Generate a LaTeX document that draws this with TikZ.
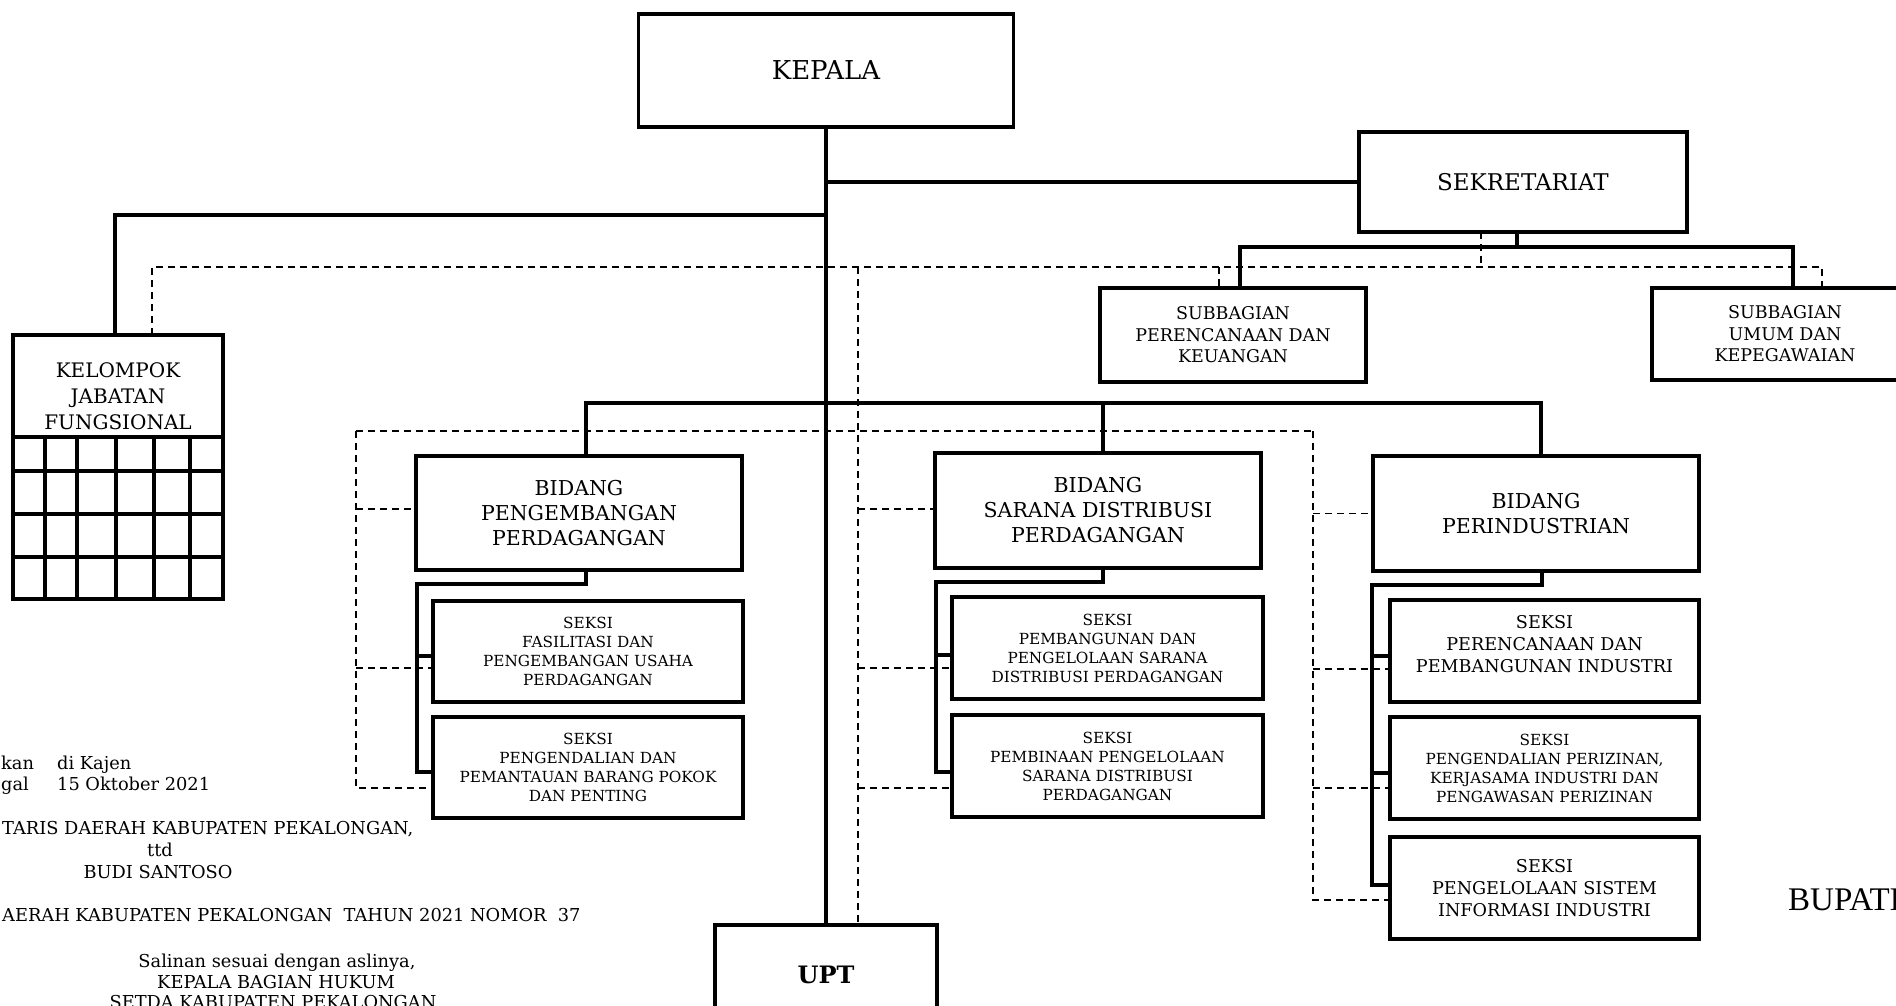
\documentclass[tikz,border=0pt]{standalone}
\usepackage{fontspec}
\setmainfont{DejaVu Serif}
\newfontfamily\capfont{Liberation Serif}
\begin{document}
\begin{tikzpicture}[x=1pt,y=-1pt,
  box/.style={draw, line width=3.8pt, fill=white, inner sep=0pt, outer sep=0pt, align=center},
  link/.style={line width=3.4pt},
  dlink/.style={line width=1.8pt, dash pattern=on 7pt off 5pt},
  topfont/.style={font=\fontsize{26}{30}\selectfont},
  secfont/.style={font=\fontsize{23}{28}\selectfont},
  subfont/.style={font=\fontsize{17.5}{21.5}\selectfont},
  kelfont/.style={font=\fontsize{20}{26}\selectfont},
  bidfont/.style={font=\fontsize{20.5}{25}\selectfont},
  smallsek/.style={font=\fontsize{15.3}{19}\selectfont, minimum width=310pt, minimum height=101pt},
  bigsek/.style={font=\fontsize{17.6}{22}\selectfont, minimum width=309pt, minimum height=102pt},
  btext/.style={font=\fontsize{17.8}{21}\selectfont, inner sep=0pt, anchor=base west},
]
\useasboundingbox (0,0) rectangle (1896,1006);
\clip (0,0) rectangle (1896,1006);

% ---------- boxes ----------
\node[box, topfont, minimum width=375pt, minimum height=113pt] (kepala) at (826,70.5) {KEPALA};
\node[box, secfont, minimum width=328pt, minimum height=100pt] (sekr) at (1523,182) {SEKRETARIAT};
\node[box, subfont, minimum width=266pt, minimum height=94pt] (subA) at (1233,335) {SUBBAGIAN\\PERENCANAAN DAN\\KEUANGAN};
\node[box, subfont, minimum width=266pt, minimum height=92pt] (subB) at (1785,334) {SUBBAGIAN\\UMUM DAN\\KEPEGAWAIAN};

% functional group with its grid
\node[box, minimum width=210pt, minimum height=102pt] (kel) at (118,386) {};
\node[kelfont, align=center, inner sep=0pt] (kelT) at ([yshift=-10pt]kel.center) {KELOMPOK\\JABATAN\\FUNGSIONAL};
\draw[line width=3.8pt] (kel.south west) rectangle (223,599);
\foreach \yy in {471,514,557} \draw[line width=3.8pt] (13,\yy) -- (223,\yy);
\foreach \xx in {45,77,116,154,190} \draw[line width=3.8pt] (\xx,437) -- (\xx,599);

\node[box, bidfont, minimum width=326pt, minimum height=114pt] (bid1) at (579,513) {BIDANG\\PENGEMBANGAN\\PERDAGANGAN};
\node[box, bidfont, minimum width=326pt, minimum height=115pt] (bid2) at (1098,510.5) {BIDANG\\SARANA DISTRIBUSI\\PERDAGANGAN};
\node[box, bidfont, minimum width=326pt, minimum height=115pt] (bid3) at (1536,513.5) {BIDANG\\PERINDUSTRIAN};

\node[box, smallsek] (s1a) at (588,651.5) {SEKSI\\FASILITASI DAN\\PENGEMBANGAN USAHA\\PERDAGANGAN};
\node[box, smallsek] (s1b) at (588,767.5) {SEKSI\\PENGENDALIAN DAN\\PEMANTAUAN BARANG POKOK\\DAN PENTING};
\node[box, smallsek, minimum width=311pt, minimum height=102pt] (s2a) at (1107.5,648) {SEKSI\\PEMBANGUNAN DAN\\PENGELOLAAN SARANA\\DISTRIBUSI PERDAGANGAN};
\node[box, smallsek, minimum width=311pt, minimum height=102pt] (s2b) at (1107.5,766) {SEKSI\\PEMBINAAN PENGELOLAAN\\SARANA DISTRIBUSI\\PERDAGANGAN};
\node[box, bigsek] (s3a) at (1544.5,651) {};
\node[font=\fontsize{17.6}{22}\selectfont, align=center, inner sep=0pt] (s3aT) at ([yshift=7pt]s3a.center) {SEKSI\\PERENCANAAN DAN\\PEMBANGUNAN INDUSTRI};
\node[box, smallsek, minimum width=309pt, minimum height=102pt] (s3b) at (1544.5,768) {SEKSI\\PENGENDALIAN PERIZINAN,\\KERJASAMA INDUSTRI DAN\\PENGAWASAN PERIZINAN};
\node[box, bigsek] (s3c) at (1544.5,888) {SEKSI\\PENGELOLAAN SISTEM\\INFORMASI INDUSTRI};

\node[box, font=\bfseries\fontsize{24}{28}\selectfont, minimum width=222pt, minimum height=100pt, text depth=0pt] (upt) at (826,975) {UPT};

% ---------- solid command lines ----------
\coordinate (jKel) at (826,215);
\coordinate (jBus) at (826,403);
\coordinate (jSek) at (1517,247);

\draw[link] (kepala.south) -- (upt.north);
\draw[link] (kepala.south |- sekr.west) -- (sekr.west);
\draw[link] (jKel) -| ([xshift=-3pt]kel.north);

\draw[link] ([xshift=-6pt]sekr.south) -- (jSek);
\draw[link] ([xshift=7pt]subA.north) |- (jSek) -| ([xshift=8pt]subB.north);

\draw[link] ([xshift=7pt]bid1.north) |- (jBus) -| ([xshift=5pt]bid3.north);
\draw[link] ([xshift=5pt]bid2.north) -- ([xshift=5pt]bid2.north |- jBus);

% division heads to their sections
\coordinate (b1) at (417,584);
\coordinate (b2) at (936,582);
\coordinate (b3) at (1372,585);
\coordinate (s1aS) at ([yshift=-4.5pt]s1a.west);
\coordinate (s1bS) at ([yshift=-4.5pt]s1b.west);
\coordinate (s2aS) at ([yshift=-7pt]s2a.west);
\coordinate (s2bS) at ([yshift=-6pt]s2b.west);
\coordinate (s3aS) at ([yshift=-5pt]s3a.west);
\coordinate (s3bS) at ([yshift=-5pt]s3b.west);
\coordinate (s3cS) at ([yshift=3pt]s3c.west);

\draw[link] ([xshift=7pt]bid1.south) |- (b1) |- (s1bS);
\draw[link] (b1 |- s1aS) -- (s1aS);
\draw[link] ([xshift=5pt]bid2.south) |- (b2) |- (s2bS);
\draw[link] (b2 |- s2aS) -- (s2aS);
\draw[link] ([xshift=6pt]bid3.south) |- (b3) |- (s3cS);
\draw[link] (b3 |- s3aS) -- (s3aS);
\draw[link] (b3 |- s3bS) -- (s3bS);

% ---------- dashed coordination lines ----------
\coordinate (dK) at (858,267);
\coordinate (dL) at (356,431);
\coordinate (dR) at (1313,431);
\coordinate (kelD) at ([xshift=34pt]kel.north);
\coordinate (subAD) at ([xshift=-14pt]subA.north);
\coordinate (subBD) at ([xshift=37pt]subB.north);
\coordinate (sekrD) at ([xshift=-42pt]sekr.south);
\coordinate (uptD) at ([xshift=32pt]upt.north);
\coordinate (bid1D) at ([yshift=4pt]bid1.west);
\coordinate (bid2D) at ([yshift=1.5pt]bid2.west);
\coordinate (bid3D) at (bid3.west);
\coordinate (s1aD) at ([yshift=-16.5pt]s1a.west);
\coordinate (s1bD) at ([yshift=-20.5pt]s1b.west);
\coordinate (s2aD) at ([yshift=-20pt]s2a.west);
\coordinate (s2bD) at ([yshift=-22pt]s2b.west);
\coordinate (s3aD) at ([yshift=-18pt]s3a.west);
\coordinate (s3bD) at ([yshift=-20pt]s3b.west);
\coordinate (s3cD) at ([yshift=-12pt]s3c.west);

\draw[dlink] (kelD) |- (dK) -| (subBD);
\draw[dlink] (sekrD) -- (sekrD |- dK);
\draw[dlink] (subAD |- dK) -- (subAD);
\draw[dlink] (dK) -- (uptD);

\draw[dlink] (dL) -- (dR);
\draw[dlink] (dL) |- (s1bD);
\draw[dlink] (dL |- bid1D) -- (bid1D);
\draw[dlink] (dL |- s1aD) -- (s1aD);

\draw[dlink] (uptD |- bid2D) -- (bid2D);
\draw[dlink] (uptD |- s2aD) -- (s2aD);
\draw[dlink] (uptD |- s2bD) -- (s2bD);

\draw[dlink] (dR) |- (s3cD);
\draw[dlink] (dR |- bid3D) -- (bid3D);
\draw[dlink] (dR |- s3aD) -- (s3aD);
\draw[dlink] (dR |- s3bD) -- (s3bD);

% ---------- signature block ----------
\node[btext] (t1) at (1,769) {kan};
\node[btext] (t2) at (57,769) {di Kajen};
\node[btext] (t3) at (1,790) {gal};
\node[btext] (t4) at (57,790) {15 Oktober 2021};
\node[btext] (t5) at (2,834) {TARIS DAERAH KABUPATEN PEKALONGAN,};
\node[btext, anchor=base] (t6) at (160,856) {ttd};
\node[btext, anchor=base] (t7) at (158,878) {BUDI SANTOSO};
\node[btext] (t8) at (2,921) {AERAH KABUPATEN PEKALONGAN\ \ TAHUN 2021 NOMOR\ \ 37};
\node[btext, anchor=base] (t9) at (277,967) {Salinan sesuai dengan aslinya,};
\node[btext, anchor=base] (t10) at (276,988) {KEPALA BAGIAN HUKUM};
\node[btext, anchor=base] (t11) at (273,1008) {SETDA KABUPATEN PEKALONGAN};
\node[font=\capfont\fontsize{33}{38}\selectfont, inner sep=0pt, anchor=base west] (bup) at (1788,910) {BUPATI};
\end{tikzpicture}
\end{document}
